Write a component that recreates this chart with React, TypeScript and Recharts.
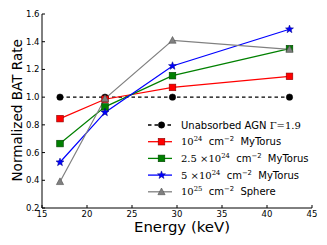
import React from "react";
import { LineChart, Line, XAxis, YAxis, Legend } from "recharts";

const energy = [17, 22, 29.5, 42.5];
const unabsorbed = [1.0, 1.0, 1.0, 1.0];
const torus1e24 = [0.845, 0.985, 1.07, 1.15];
const torus25e24 = [0.665, 0.93, 1.155, 1.35];
const torus5e24 = [0.53, 0.89, 1.225, 1.49];
const sphere1e25 = [0.39, 0.99, 1.41, 1.345];

const xTicks = [15, 20, 25, 30, 35, 40, 45];
const yTicks = [0.2, 0.4, 0.6, 0.8, 1.0, 1.2, 1.4, 1.6];

type Part = { t: string; sup?: boolean; serif?: boolean };

const series = [
  {
    key: "unabs",
    values: unabsorbed,
    color: "#000000",
    edge: "#000000",
    marker: "circle",
    dashed: true,
    label: [
      { t: "Unabsorbed AGN " },
      { t: "Γ=1.9", serif: true },
    ] as Part[],
  },
  {
    key: "t24",
    values: torus1e24,
    color: "#ff0000",
    edge: "#8a0000",
    marker: "square",
    dashed: false,
    label: [
      { t: "10", serif: true },
      { t: "24", sup: true, serif: true },
      { t: "  cm" },
      { t: "−2", sup: true },
      { t: "  MyTorus" },
    ] as Part[],
  },
  {
    key: "t25",
    values: torus25e24,
    color: "#008000",
    edge: "#004000",
    marker: "square",
    dashed: false,
    label: [
      { t: "2.5 ×10", serif: true },
      { t: "24", sup: true, serif: true },
      { t: "  cm" },
      { t: "−2", sup: true },
      { t: "  MyTorus" },
    ] as Part[],
  },
  {
    key: "t5",
    values: torus5e24,
    color: "#0000ff",
    edge: "#000080",
    marker: "star",
    dashed: false,
    label: [
      { t: "5 ×10", serif: true },
      { t: "24", sup: true, serif: true },
      { t: "  cm" },
      { t: "−2", sup: true },
      { t: "  MyTorus" },
    ] as Part[],
  },
  {
    key: "s25",
    values: sphere1e25,
    color: "#808080",
    edge: "#505050",
    marker: "triangle",
    dashed: false,
    label: [
      { t: "10", serif: true },
      { t: "25", sup: true, serif: true },
      { t: "  cm" },
      { t: "−2", sup: true },
      { t: "  Sphere" },
    ] as Part[],
  },
];

const data = energy.map((e, i) => {
  const row: Record<string, number> = { energy: e };
  series.forEach((s) => {
    row[s.key] = s.values[i];
  });
  return row;
});

const sans = "DejaVu Sans";
const serif = "DejaVu Serif";

function starPath(cx: number, cy: number, r: number) {
  const pts: string[] = [];
  for (let i = 0; i < 10; i++) {
    const rad = i % 2 === 0 ? r : r * 0.42;
    const a = -Math.PI / 2 + (i * Math.PI) / 5;
    pts.push(`${cx + rad * Math.cos(a)},${cy + rad * Math.sin(a)}`);
  }
  return `M${pts.join("L")}Z`;
}

function Marker({ shape, cx, cy, color, edge }: any) {
  if (shape === "circle") {
    return <circle cx={cx} cy={cy} r={3.2} fill={color} stroke={edge} strokeWidth={0.5} />;
  }
  if (shape === "square") {
    return (
      <rect x={cx - 3.3} y={cy - 3.3} width={6.6} height={6.6} fill={color} stroke={edge} strokeWidth={0.6} />
    );
  }
  if (shape === "star") {
    return <path d={starPath(cx, cy, 4.2)} fill={color} stroke={edge} strokeWidth={0.5} />;
  }
  return (
    <path
      d={`M${cx},${cy - 3.8}L${cx + 3.6},${cy + 2.9}L${cx - 3.6},${cy + 2.9}Z`}
      fill={color}
      stroke={edge}
      strokeWidth={0.6}
    />
  );
}

const makeDot = (s: (typeof series)[number]) => (props: any) => {
  const { cx, cy, index } = props;
  if (cx == null || cy == null) return <g key={index} />;
  return (
    <g key={`${s.key}-${index}`}>
      <Marker shape={s.marker} cx={cx} cy={cy} color={s.color} edge={s.edge} />
    </g>
  );
};

function LegendBox() {
  return (
    <svg width={180} height={90}>
      {series.map((s, i) => {
        const y = 10 + i * 16.7;
        return (
          <g key={s.key}>
            <line
              x1={3}
              x2={27}
              y1={y}
              y2={y}
              stroke={s.color}
              strokeWidth={1.3}
              strokeDasharray={s.dashed ? "3.5 3" : undefined}
            />
            <Marker shape={s.marker} cx={16.5} cy={y} color={s.color} edge={s.edge} />
            <text x={36} y={y + 3.6} fontSize={10} fontFamily={sans} fill="#000" xmlSpace="preserve">
              {s.label.map((p, j) => (
                <tspan
                  key={j}
                  fontFamily={p.serif ? serif : sans}
                  fontSize={p.sup ? 6.8 : 10}
                  dy={p.sup ? -4 : j > 0 && s.label[j - 1].sup ? 4 : 0}
                >
                  {p.t}
                </tspan>
              ))}
            </text>
          </g>
        );
      })}
    </svg>
  );
}

const tickStyle = { fontSize: 8.5, fontFamily: sans, fill: "#000" };

export default function App() {
  return (
    <div style={{ position: "absolute", left: 0, top: 0, width: 327, height: 245, background: "#fff" }}>
      <LineChart width={327} height={245} data={data} margin={{ top: 14, right: 15, bottom: 7, left: 0 }}>
        <XAxis
          xAxisId="b"
          dataKey="energy"
          type="number"
          domain={[15, 45]}
          ticks={xTicks}
          height={30}
          tick={tickStyle}
          tickSize={-3}
          tickMargin={6}
          stroke="#000"
          interval={0}
          label={{
            content: () => (
              <text
                x={182}
                y={231.5}
                textAnchor="middle"
                fontSize={14}
                fontFamily={sans}
                fill="#000"
                textLength={96}
                lengthAdjust="spacingAndGlyphs"
              >
                Energy (keV)
              </text>
            ),
          }}
        />
        <XAxis
          xAxisId="t"
          orientation="top"
          dataKey="energy"
          type="number"
          domain={[15, 45]}
          ticks={xTicks}
          height={0}
          tick={false}
          tickSize={-3}
          stroke="#777"
        />
        <YAxis
          yAxisId="l"
          type="number"
          domain={[0.2, 1.6]}
          ticks={yTicks}
          width={42}
          tick={tickStyle}
          tickFormatter={(v: number) => v.toFixed(1)}
          tickSize={-3}
          tickMargin={5.5}
          stroke="#000"
          interval={0}
          label={{
            content: () => (
              <text
                x={22}
                y={110.3}
                transform="rotate(-90 22 110.3)"
                textAnchor="middle"
                fontSize={14.5}
                fontFamily={sans}
                fill="#000"
                textLength={142.5}
                lengthAdjust="spacingAndGlyphs"
              >
                Normalized BAT Rate
              </text>
            ),
          }}
        />
        <YAxis
          yAxisId="r"
          orientation="right"
          type="number"
          domain={[0.2, 1.6]}
          ticks={yTicks}
          width={0}
          tick={false}
          tickSize={-3}
          stroke="#777"
        />
        <Legend
          layout="vertical"
          align="center"
          verticalAlign="middle"
          wrapperStyle={{ position: "absolute", left: 145, top: 115, width: 180, height: 90 }}
          content={() => <LegendBox />}
        />
        {series.map((s) => (
          <Line
            key={s.key}
            xAxisId="b"
            yAxisId="l"
            dataKey={s.key}
            stroke={s.color}
            strokeWidth={1.2}
            strokeDasharray={s.dashed ? "3.5 3" : undefined}
            dot={makeDot(s)}
            activeDot={false}
            isAnimationActive={false}
          />
        ))}
      </LineChart>
    </div>
  );
}
